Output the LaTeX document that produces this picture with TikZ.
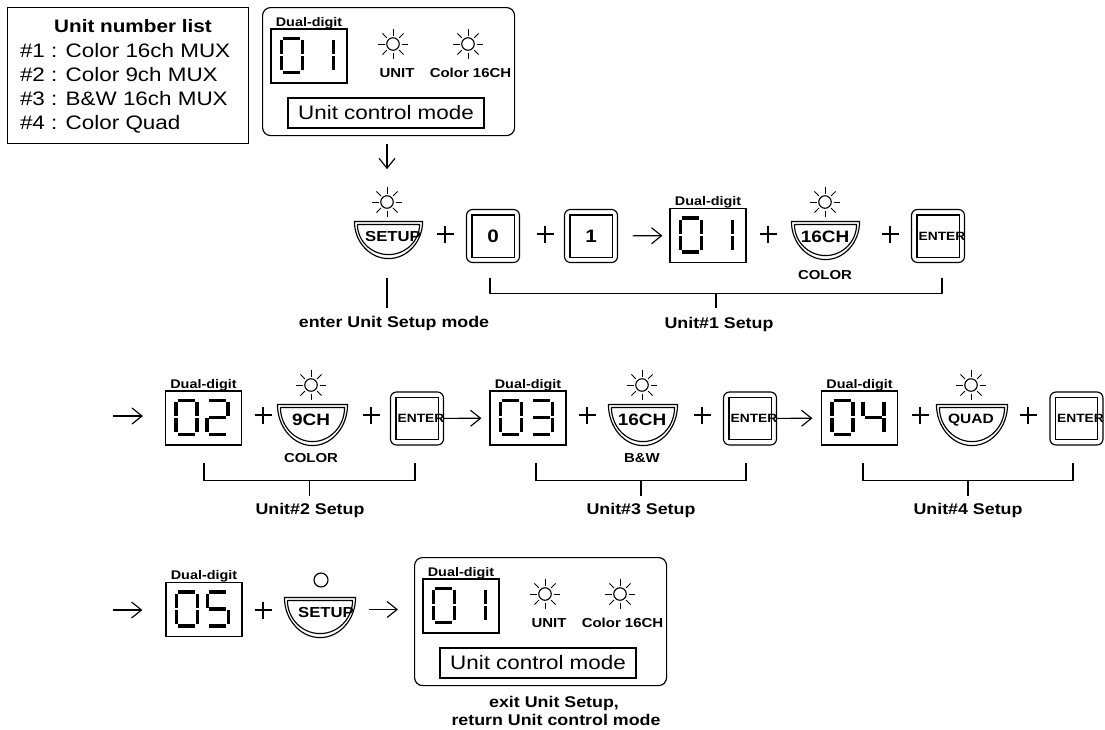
\documentclass[tikz,border=0pt]{standalone}
\usepackage{fontspec}
\setmainfont{Liberation Sans}[FakeStretch=1.15]
\usetikzlibrary{arrows.meta,calc}

\newcommand\fsz[1]{\fontsize{#1}{#1}\selectfont}

\tikzset{
 txt/.style={inner sep=0pt, outer sep=0pt},
 disp/.style={draw, minimum width=76pt, minimum height=54pt, inner sep=0pt},
 dlab/.style={txt, font=\bfseries\fsz{12.5}, anchor=base},
 sunc/.style={draw, circle, minimum size=12.5pt, inner sep=0pt},
 keybox/.style={draw, rounded corners=6pt, minimum width=53pt, minimum height=53pt, inner sep=0pt},
 arr/.style={-{Straight Barb[length=10pt,width=16pt]}},
 segline/.style={line width=3.2pt},
 brlab/.style={txt, font=\bfseries\fsz{15.5}, anchor=base},
 sublab/.style={txt, font=\bfseries\fsz{13}},
 listitem/.style={txt, font=\fsz{19.5}, anchor=base west}
}

% seven-segment pieces (origin = top-left of digit)
\newcommand\sgA[1]{\draw[segline] ([shift={(2pt,0pt)}]#1) -- ([shift={(19pt,0pt)}]#1);}
\newcommand\sgB[1]{\draw[segline] ([shift={(21pt,-2pt)}]#1) -- ([shift={(21pt,-16pt)}]#1);}
\newcommand\sgC[1]{\draw[segline] ([shift={(21pt,-18pt)}]#1) -- ([shift={(21pt,-32pt)}]#1);}
\newcommand\sgD[1]{\draw[segline] ([shift={(2pt,-34pt)}]#1) -- ([shift={(19pt,-34pt)}]#1);}
\newcommand\sgE[1]{\draw[segline] ([shift={(0pt,-18pt)}]#1) -- ([shift={(0pt,-32pt)}]#1);}
\newcommand\sgF[1]{\draw[segline] ([shift={(0pt,-2pt)}]#1) -- ([shift={(0pt,-16pt)}]#1);}
\newcommand\sgG[1]{\draw[segline] ([shift={(2pt,-17pt)}]#1) -- ([shift={(19pt,-17pt)}]#1);}
\newcommand\mkdigit[2]{\foreach \s in {#2}{\csname sg\s\endcsname{#1}}}

\newcommand\mkdisp[4]{%
 \node[disp] (#1) at #2 {};
 \node[dlab] (#1-lab) at ([yshift=2pt]#1.north) {Dual-digit};
 \coordinate (#1-o1) at ([shift={(11pt,-10pt)}]#1.north west);
 \coordinate (#1-o2) at ([shift={(42pt,-10pt)}]#1.north west);
 \mkdigit{#1-o1}{#3}
 \mkdigit{#1-o2}{#4}
}

\newcommand\mksun[2]{%
 \node[sunc] (#1) at #2 {};
 \foreach \a in {0,45,...,315}{\draw[line width=1pt] ([shift={(\a:8.5pt)}]#1.center) -- ([shift={(\a:15pt)}]#1.center);}
}

\newcommand\mkbowl[7]{%
 \node[inner sep=0pt, minimum width=#3pt, minimum height=#4pt] (#1) at #2 {};
 \draw[line join=round] (#1.north west) -- (#1.north east)
   .. controls ($(#1.north east)!0.55!(#1.south east)$) and ($(#1.south)!0.55!(#1.south east)$) .. (#1.south)
   .. controls ($(#1.south)!0.55!(#1.south west)$) and ($(#1.north west)!0.55!(#1.south west)$) .. (#1.north west) -- cycle;
 \coordinate (#1-a) at ([shift={(3pt,-3pt)}]#1.north west);
 \coordinate (#1-b) at ([shift={(-3pt,-3pt)}]#1.north east);
 \coordinate (#1-c) at ([shift={(0pt,4pt)}]#1.south);
 \coordinate (#1-d) at (#1-a |- #1-c);
 \coordinate (#1-e) at (#1-b |- #1-c);
 \draw (#1-a) -- (#1-b)
   .. controls ($(#1-b)!0.55!(#1-e)$) and ($(#1-c)!0.55!(#1-e)$) .. (#1-c)
   .. controls ($(#1-c)!0.55!(#1-d)$) and ($(#1-a)!0.55!(#1-d)$) .. (#1-a);
 \node[txt, font=\bfseries\fsz{#6}] (#1-t) at ([shift={(#7pt,-15.5pt)}]#1.north) {#5};
}

\newcommand\mkkey[5]{%
 \node[keybox] (#1) at #2 {};
 \draw ([shift={(6pt,-6pt)}]#1.north west) rectangle ([shift={(-6pt,6pt)}]#1.south east);
 \node[txt, font=\bfseries\fsz{#4}] (#1-t) at ([xshift=#5pt]#1.center) {#3};
}

\newcommand\mkplus[2]{%
 \coordinate (#1) at #2;
 \draw ([xshift=-8.5pt]#1) -- ([xshift=8.5pt]#1) ([yshift=-8.5pt]#1) -- ([yshift=8.5pt]#1);
}

\newcommand\mkpanel[2]{%
 \node[draw, rounded corners=8pt, minimum width=252pt, minimum height=128pt, inner sep=0pt, anchor=north west] (#1) at #2 {};
 \mkdisp{#1-d}{([shift={(47pt,-49pt)}]#1.north west)}{A,B,C,D,E,F}{B,C}
 \mksun{#1-s1}{([shift={(131pt,-37pt)}]#1.north west)}
 \node[txt, font=\bfseries\fsz{13}, anchor=base] (#1-u) at ([shift={(135pt,-70pt)}]#1.north west) {UNIT};
 \mksun{#1-s2}{([shift={(206pt,-37pt)}]#1.north west)}
 \node[txt, font=\bfseries\fsz{13}, anchor=base] (#1-c) at ([shift={(208.5pt,-70pt)}]#1.north west) {Color 16CH};
 \node[draw, minimum width=196pt, minimum height=30pt, inner sep=0pt, font=\fsz{19.5}] (#1-m) at ([shift={(124pt,-106pt)}]#1.north west) {Unit control mode};
}

\begin{document}
\begin{tikzpicture}[x=1pt, y=-1pt, line width=1.15pt]
\useasboundingbox (0,0) rectangle (1105,729);

% unit number list
\node[draw, minimum width=241pt, minimum height=136pt, anchor=north west, inner sep=0pt] (list) at (7,7) {};
\node[txt, font=\bfseries\fsz{18}, anchor=base] (lt) at (133,32) {Unit number list};
\node[listitem] (l1) at (20,57) {\#1 : Color 16ch MUX};
\node[listitem] (l2) at (20,81) {\#2 : Color 9ch MUX};
\node[listitem] (l3) at (20,105) {\#3 : B\&W 16ch MUX};
\node[listitem] (l4) at (20,129) {\#4 : Color Quad};

% top panel
\mkpanel{p1}{(262,7)}

% row 1
\mksun{s0}{(387,202)}
\draw[arr, shorten <=8pt, shorten >=26pt] (s0 |- p1.south) -- (s0.north);
\mkbowl{b0}{(388.5,240)}{67}{36}{SETUP}{14.5}{4.5}
\mkplus{pl1}{(445,234)}
\mkkey{k0}{(493,236)}{0}{18}{0}
\mkplus{pl2}{(545,234)}
\mkkey{k1}{(591,236)}{1}{18}{0}
\mkdisp{d1}{(708,235.5)}{A,B,C,D,E,F}{B,C}
\draw[arr, shorten <=14.5pt, shorten >=7pt] (k1) -- (d1);
\mkplus{pl3}{(768,234)}
\mksun{s1}{(825,202)}
\mkbowl{b1}{(825.5,240.5)}{67}{37}{16CH}{16.5}{-0.5}
\node[sublab] (c1) at (825,275) {COLOR};
\mkplus{pl4}{(890,234)}
\mkkey{e1}{(938,236)}{ENTER}{12}{4}

\draw (b0.south -| s0) ++(0,19) -- ++(0,30);
\node[brlab] (lab0) at (394,327) {enter Unit Setup mode};
\draw ([xshift=-3pt]k0.south) ++(0,15) -- ++(0,15) -| ([shift={(4pt,-15pt)}]e1.south);
\draw ($(k0.south)!0.5!(e1.south)+(0.5,30)$) -- ++(0,15);
\node[brlab] (lab1) at (719,328) {Unit\#1 Setup};

% row 2
\coordinate (r2s) at (113,416);
\mkdisp{d2}{(203.5,418)}{A,B,C,D,E,F}{A,B,G,E,D}
\draw[arr, shorten >=22pt] (r2s) -- (r2s -| d2.west);
\mkplus{pl5}{(263,415)}
\mksun{s2}{(311,385)}
\mkbowl{b2}{(312.5,425)}{69}{40}{9CH}{16.5}{-1.5}
\node[sublab] (c2) at (311,458) {COLOR};
\mkplus{pl6}{(371,415)}
\mkkey{e2}{(417,418.5)}{ENTER}{12}{4}
\mkdisp{d3}{(528,418)}{A,B,C,D,E,F}{A,B,G,C,D}
\draw[arr, shorten >=8pt] (e2) -- (d3);
\mkplus{pl7}{(587,415)}
\mksun{s3}{(642,385)}
\mkbowl{b3}{(643,425)}{68}{40}{16CH}{16.5}{-1}
\node[sublab] (c3) at (642,458) {B\&W};
\mkplus{pl8}{(702,415)}
\mkkey{e3}{(750,418.5)}{ENTER}{12}{4}
\mkdisp{d4}{(859.5,418)}{A,B,C,D,E,F}{F,G,B,C}
\draw[arr, shorten >=8.5pt] (e3) -- (d4);
\mkplus{pl9}{(920,415)}
\mksun{s4}{(971,385)}
\mkbowl{b4}{(972,425)}{70}{40}{QUAD}{13.5}{-1}
\mkplus{pl10}{(1028,415)}
\mkkey{e4}{(1076.5,418.5)}{ENTER}{12}{4}

\draw (d2.south) ++(0.5,17) -- ++(0,18) -| ([shift={(-2pt,-17pt)}]e2.south);
\draw ($(d2.south)!0.5!(e2.south)+(-0.75,35)$) -- ++(0,15);
\node[brlab] (lab2) at (310,514) {Unit\#2 Setup};
\draw (d3.south) ++(8,17) -- ++(0,18) -| ([shift={(-4pt,-17pt)}]e3.south);
\draw ($(d3.south)!0.5!(e3.south)+(2,35)$) -- ++(0,15);
\node[brlab] (lab3) at (641,514) {Unit\#3 Setup};
\draw (d4.south) ++(3.5,17) -- ++(0,18) -| ([shift={(-3.5pt,-17pt)}]e4.south);
\draw ($(d4.south)!0.5!(e4.south)+(0,35)$) -- ++(0,15);
\node[brlab] (lab4) at (968,514) {Unit\#4 Setup};

% row 3
\coordinate (r3s) at (113,610);
\mkdisp{d5}{(204,609.5)}{A,B,C,D,E,F}{A,F,G,C,D}
\draw[arr, shorten >=23pt] (r3s) -- (r3s -| d5.west);
\mkplus{pl11}{(263,610)}
\node[draw, circle, minimum size=14pt, inner sep=0pt] (led) at (321,580) {};
\mkbowl{b5}{(320,617.5)}{70}{39}{SETUP}{14.5}{6}
\mkpanel{p2}{(414,557)}
\draw[arr, shorten <=13pt, shorten >=16pt] (b5.east |- d5) -- (p2.west |- d5);
\node[brlab] (x1) at (554,707) {exit Unit Setup,};
\node[brlab] (x2) at (556,725) {return Unit control mode};
\end{tikzpicture}
\end{document}
